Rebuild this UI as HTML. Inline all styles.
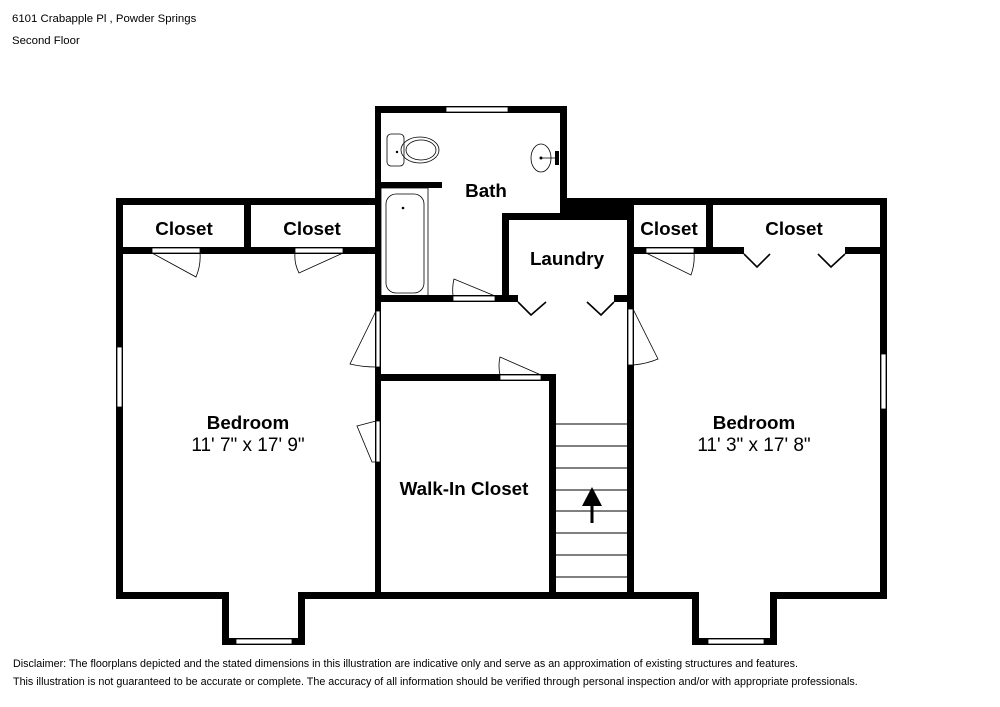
<!DOCTYPE html>
<html><head><meta charset="utf-8"><style>
html,body{margin:0;padding:0;background:#fff;}
svg{display:block;}
text{font-family:"Liberation Sans",Arial,sans-serif;fill:#000;}
.b{font-weight:bold;font-size:18.8px;text-anchor:middle;}
.r{font-size:19px;text-anchor:middle;}
.s{font-size:11.4px;}
</style></head><body>
<svg width="1000" height="707" viewBox="0 0 1000 707" xmlns="http://www.w3.org/2000/svg">
<text class="s" x="12" y="22">6101 Crabapple Pl , Powder Springs</text>
<text class="s" x="12" y="44">Second Floor</text>
<g fill="#000">
<rect x="116" y="198" width="265" height="7"/>
<rect x="116" y="198" width="7" height="401"/>
<rect x="116" y="247" width="265" height="7"/>
<rect x="244" y="198" width="7" height="56"/>
<rect x="116" y="592" width="771" height="7"/>
<rect x="222" y="592" width="7" height="53"/>
<rect x="298" y="592" width="7" height="53"/>
<rect x="222" y="638" width="83" height="7"/>
<rect x="375" y="106" width="192" height="7"/>
<rect x="375" y="106" width="6" height="493"/>
<rect x="560" y="106" width="7" height="107"/>
<rect x="381" y="182" width="61" height="6"/>
<rect x="375" y="295" width="134" height="7"/>
<rect x="502" y="213" width="7" height="89"/>
<rect x="502" y="213" width="132" height="7"/>
<rect x="560" y="198" width="74" height="22"/>
<rect x="627" y="198" width="7" height="401"/>
<rect x="502" y="295" width="16" height="7"/>
<rect x="614" y="295" width="20" height="7"/>
<rect x="560" y="198" width="327" height="7"/>
<rect x="880" y="198" width="7" height="401"/>
<rect x="627" y="247" width="260" height="7"/>
<rect x="706" y="198" width="7" height="56"/>
<rect x="692" y="592" width="7" height="53"/>
<rect x="770" y="592" width="7" height="53"/>
<rect x="692" y="638" width="85" height="7"/>
<rect x="375" y="374" width="181" height="7"/>
<rect x="549" y="374" width="7" height="225"/>
</g>
<g fill="#fff">
<rect x="229" y="591" width="69" height="9"/>
<rect x="699" y="591" width="71" height="9"/>
<rect x="446" y="107" width="62" height="5"/>
<rect x="236" y="639" width="56" height="5"/>
<rect x="708" y="639" width="56" height="5"/>
<rect x="117" y="347" width="5" height="60"/>
<rect x="881" y="354" width="5" height="55"/>
<rect x="152" y="248" width="48" height="5"/>
<rect x="295" y="248" width="48" height="5"/>
<rect x="646" y="248" width="48" height="5"/>
<rect x="744" y="246" width="101" height="9"/>
<rect x="453" y="296" width="42" height="5"/>
<rect x="500" y="375" width="41" height="5"/>
<rect x="376" y="311" width="4" height="56"/>
<rect x="376" y="421" width="4" height="41"/>
<rect x="628" y="309" width="5" height="56"/>
</g>
<g fill="none" stroke="#000" stroke-width="0.8">
<rect x="446" y="107" width="62" height="5"/>
<rect x="236" y="639" width="56" height="5"/>
<rect x="708" y="639" width="56" height="5"/>
<rect x="117" y="347" width="5" height="60"/>
<rect x="881" y="354" width="5" height="55"/>
<rect x="152" y="248" width="48" height="5"/>
<rect x="295" y="248" width="48" height="5"/>
<rect x="646" y="248" width="48" height="5"/>
<rect x="453" y="296" width="42" height="5"/>
<rect x="500" y="375" width="41" height="5"/>
<rect x="376" y="311" width="4" height="56"/>
<rect x="376" y="421" width="4" height="41"/>
<rect x="628" y="309" width="5" height="56"/>
<path d="M152 253 L196 277 Q201 265 200 253"/>
<path d="M343 253 L299 273 Q294 263 295 253"/>
<path d="M646 253 L691 275 Q695 264 694 253"/>
<path d="M495 296 L454 279 Q452 287 453 296"/>
<path d="M541 375 L500 357 Q498 366 500 375"/>
<path d="M376 311 L350 364 Q362 367 376 367"/>
<path d="M376 421 L357 426 L372 462 L376 462"/>
<path d="M633 309 L658 359 Q646 364 633 365"/>
<rect x="381" y="188" width="47" height="108"/>
<rect x="386" y="194" width="38" height="99" rx="10"/>
<rect x="387" y="134" width="17" height="32" rx="4"/>
<ellipse cx="420" cy="150" rx="19" ry="13"/>
<ellipse cx="421" cy="150" rx="15" ry="10"/>
<ellipse cx="541" cy="158" rx="10" ry="14"/>
<line x1="541" y1="158" x2="558" y2="158"/>
<g stroke-width="0.9">
<line x1="556" y1="424" x2="627" y2="424"/><line x1="556" y1="446" x2="627" y2="446"/>
<line x1="556" y1="468" x2="627" y2="468"/><line x1="556" y1="490" x2="627" y2="490"/>
<line x1="556" y1="511" x2="627" y2="511"/><line x1="556" y1="533" x2="627" y2="533"/>
<line x1="556" y1="555" x2="627" y2="555"/><line x1="556" y1="577" x2="627" y2="577"/>
</g>
</g>
<g stroke="#000" stroke-width="1.6" fill="none">
<polyline points="518,302 531,315 546,302"/>
<polyline points="587,302 601,315 614,302"/>
<polyline points="744,254 757,267 770,254"/>
<polyline points="818,254 831,267 845,254"/>
<line x1="592" y1="502" x2="592" y2="523" stroke-width="3"/>
</g>
<circle cx="541" cy="158" r="1.5"/>
<circle cx="403" cy="208" r="1.3"/>
<circle cx="397" cy="152" r="1.2"/>
<rect x="555" y="151" width="4" height="14" fill="#000"/>
<polygon points="582,506 602,506 592,487" fill="#000"/>
<text class="b" x="184" y="235">Closet</text>
<text class="b" x="312" y="235">Closet</text>
<text class="b" x="486" y="197">Bath</text>
<text class="b" x="567" y="265">Laundry</text>
<text class="b" x="669" y="235">Closet</text>
<text class="b" x="794" y="235">Closet</text>
<text class="b" x="248" y="429">Bedroom</text>
<text class="r" x="248" y="451">11' 7" x 17' 9"</text>
<text class="b" x="464" y="495">Walk-In Closet</text>
<text class="b" x="754" y="429">Bedroom</text>
<text class="r" x="754" y="451">11' 3" x 17' 8"</text>
<text style="font-size:10.75px" x="13" y="667">Disclaimer: The floorplans depicted and the stated dimensions in this illustration are indicative only and serve as an approximation of existing structures and features.</text>
<text style="font-size:10.75px" x="13" y="685">This illustration is not guaranteed to be accurate or complete. The accuracy of all information should be verified through personal inspection and/or with appropriate professionals.</text>
</svg>
</body></html>
